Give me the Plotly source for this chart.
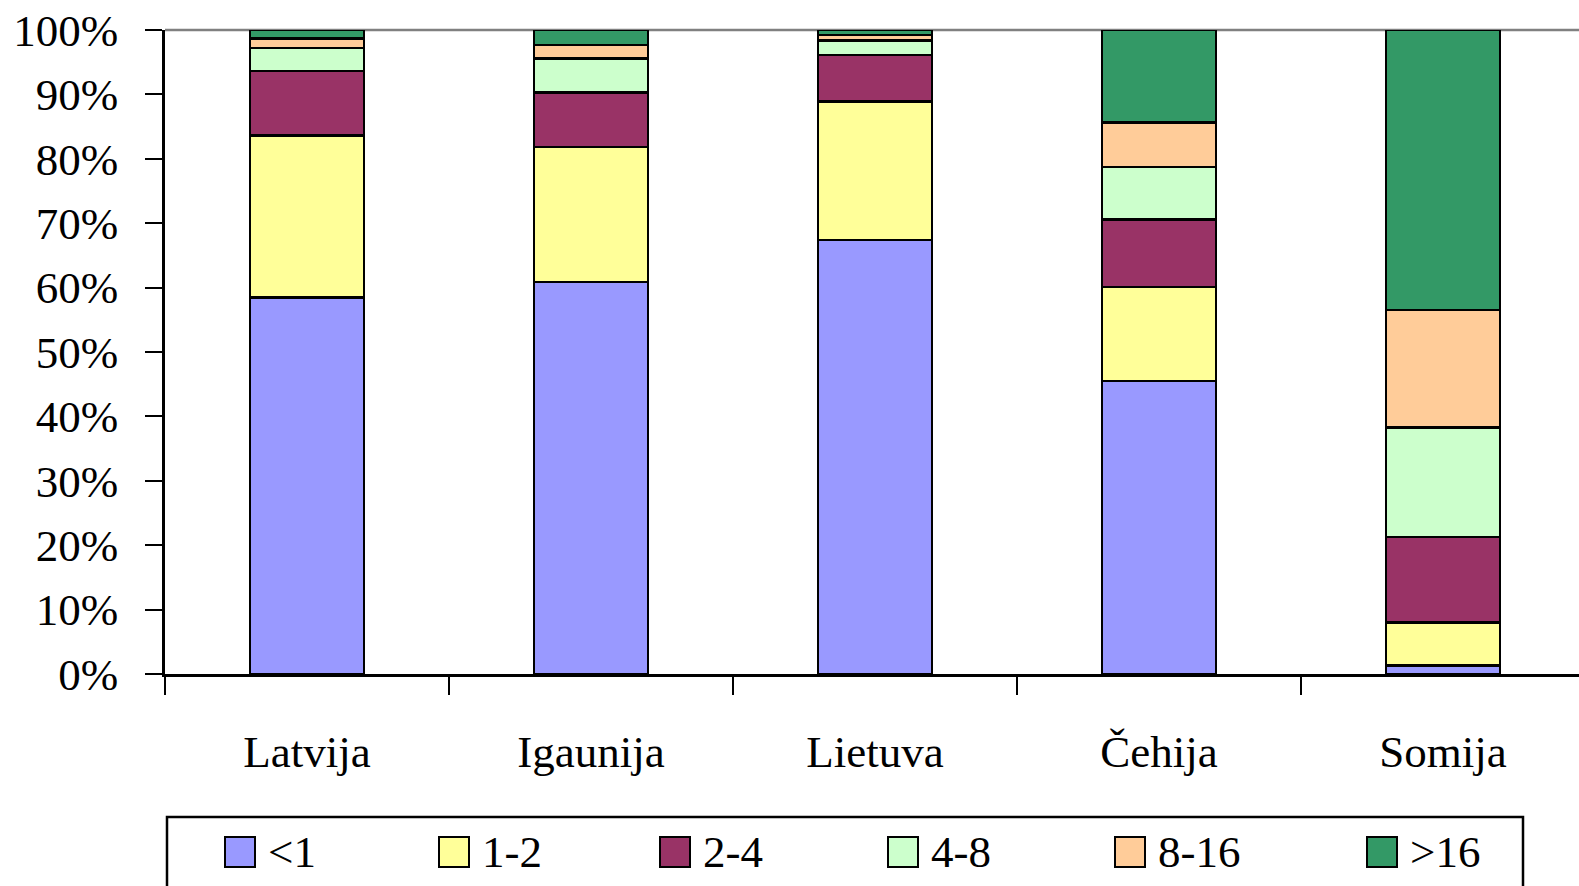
import plotly.graph_objects as go

countries = ["Latvija", "Igaunija", "Lietuva", "Čehija", "Somija"]
groups = ["<1", "1-2", "2-4", "4-8", "8-16", ">16"]
s_lt1 = [58.5, 60.9, 67.4, 45.5, 1.3]
s_1_2 = [25.1, 20.9, 21.5, 14.6, 6.7]
s_2_4 = [10.0, 8.5, 7.2, 10.5, 13.3]
s_4_8 = [3.6, 5.3, 2.3, 8.1, 17.0]
s_8_16 = [1.5, 2.1, 0.8, 6.9, 18.2]
s_gt16 = [1.3, 2.3, 0.8, 14.4, 43.5]
series = [s_lt1, s_1_2, s_2_4, s_4_8, s_8_16, s_gt16]
colors = ["#9999FF", "#FFFF99", "#993366", "#CCFFCC", "#FFCC99", "#339966"]

FONT = "Liberation Serif"
W, H = 1579, 886
ML, MR, MT, MB = 165, 0, 30, 886 - 674
PW, PH = W - ML - MR, H - MT - MB
CAT_W = 284  # pixel width of one category slot

def px(x):
    return (x - ML) / PW

def py(y):
    return (H - MB - y) / PH

fig = go.Figure()
for name, vals, col in zip(groups, series, colors):
    fig.add_trace(go.Bar(
        x=countries, y=vals, name=name, width=0.4,
        marker=dict(color=col, line=dict(color="black", width=2.5)),
        showlegend=False,
    ))

bx0, bx1, by0, by1 = px(167), px(1523), py(817), py(H)
shapes = [
    dict(type="line", xref="paper", yref="paper", x0=0, x1=1, y0=1, y1=1,
         line=dict(color="#808080", width=2.5), layer="below"),
    dict(type="path", xref="paper", yref="paper",
         path=f"M {bx0},{by1} L {bx0},{by0} L {bx1},{by0} L {bx1},{by1}",
         line=dict(color="black", width=2.5)),
]
annotations = []
sq_left = [225, 439, 660, 888, 1115, 1367]
for left, name, col in zip(sq_left, groups, colors):
    shapes.append(dict(type="rect", xref="paper", yref="paper",
                       x0=px(left), x1=px(left + 30), y0=py(837), y1=py(867),
                       fillcolor=col, line=dict(color="black", width=2)))
    annotations.append(dict(xref="paper", yref="paper", x=px(left + 41), y=py(852),
                            text=name, showarrow=False, xanchor="left", yanchor="middle",
                            font=dict(family=FONT, size=45, color="black")))

fig.update_layout(
    barmode="stack",
    width=W, height=H,
    margin=dict(l=ML, r=MR, t=MT, b=MB),
    paper_bgcolor="white", plot_bgcolor="white",
    font=dict(family=FONT, size=45, color="black"),
    shapes=shapes,
    annotations=annotations,
    xaxis=dict(range=[-0.5, -0.5 + PW / CAT_W],
               showline=True, linecolor="black", linewidth=2.5, ticks="outside",
               tickson="boundaries", ticklen=18, tickwidth=2, tickcolor="black",
               showgrid=False, ticklabelstandoff=36,
               tickfont=dict(family=FONT, size=45, color="black")),
    yaxis=dict(range=[0, 100], dtick=10, ticksuffix="%", showline=True,
               linecolor="black", linewidth=2.5, ticks="outside", ticklen=17,
               tickwidth=2, tickcolor="black", showgrid=False, zeroline=False,
               ticklabelstandoff=18, ticklabeloverflow="allow",
               tickfont=dict(family=FONT, size=45, color="black")),
)

fig.write_html(
    "out.html",
    config={"displayModeBar": False},
    post_script="document.body.style.margin='0';"
                "document.documentElement.style.overflow='hidden';"
                "document.body.style.overflow='hidden';",
)
